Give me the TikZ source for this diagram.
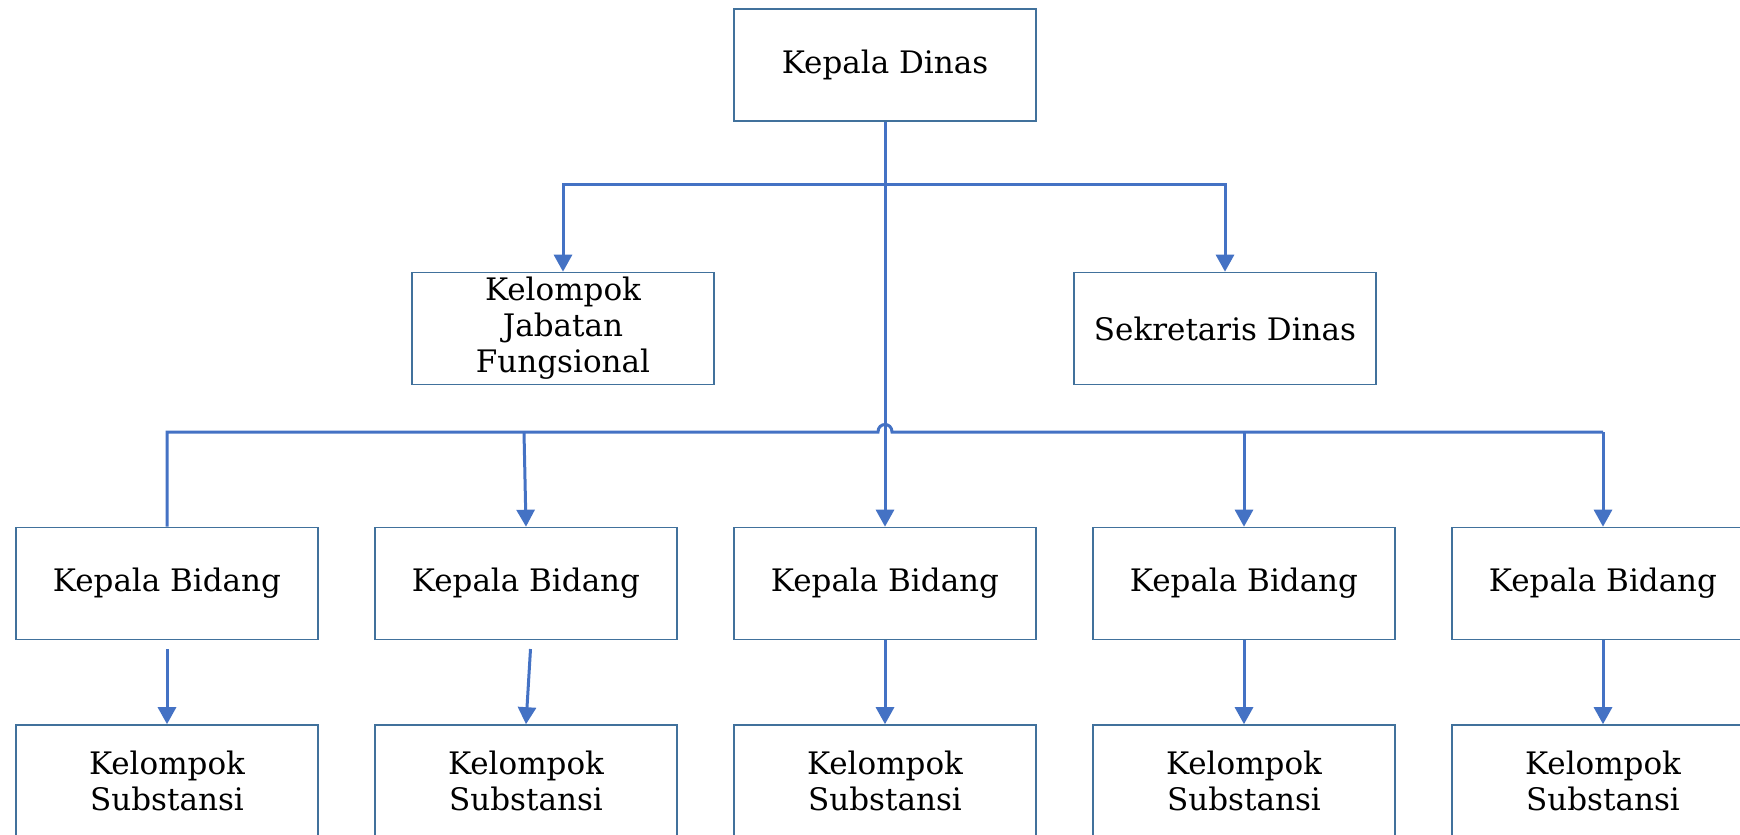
\documentclass[tikz,border=0pt]{standalone}
\usepackage{fontspec}
\setmainfont{DejaVu Serif}
\usetikzlibrary{arrows.meta,calc}
\definecolor{conncol}{HTML}{4472C4}
\definecolor{boxcol}{HTML}{41719C}
\tikzset{
  box/.style={draw=boxcol, line width=0.8pt, fill=white, minimum width=151pt, minimum height=56pt,
    inner sep=0pt, align=center, font=\fontsize{15.5}{18}\selectfont},
  conn/.style={draw=conncol, line width=1.5pt},
  arr/.style={conn, -{Triangle[length=8.5pt,width=9pt]}}
}
\begin{document}
\begin{tikzpicture}[x=0.5pt,y=-0.5pt]
\useasboundingbox (0,0) rectangle (1740,835);
\clip (0,0) rectangle (1740,835);
% nodes
\node[box] (kd) at (885,65) {Kepala Dinas};
\node[box] (kjf) at (563,328.5) {Kelompok\\Jabatan\\Fungsional};
\node[box] (sek) at (1225,328.5) {Sekretaris Dinas};
\foreach \i/\x in {1/167,2/526,3/885,4/1244,5/1603}{
  \node[box] (kb\i) at (\x,583.5) {Kepala Bidang};
  \node[box] (ks\i) at (\x,781) {Kelompok\\Substansi};
}
% coordinates
\coordinate (b1) at (885,184);
\coordinate (bl) at (167,432);
\coordinate (j2) at (524,432);
\coordinate (hopl) at (878,432);
\coordinate (hopr) at (892,432);
\coordinate (j4) at (1244,432);
\coordinate (br) at (1603,432);
\coordinate (s1) at (167,649);
\coordinate (s2) at (530.5,649);
% stem
\draw[arr] (kd.south) -- (kb3.north);
% first bus
\draw[arr] (b1) -| (kjf.north);
\draw[arr] (b1) -| (sek.north);
% second bus with hop
\draw[conn] (kb1.north) -- (bl) -- (hopl) .. controls ($(hopl)+(0,-10)$) and ($(hopr)+(0,-10)$) .. (hopr) -- (br);
\draw[arr] (j2) -- (kb2.north);
\draw[arr] (j4) -- (kb4.north);
\draw[arr] (br) -- (kb5.north);
% row 3 to row 4
\draw[arr] (s1) -- (ks1.north);
\draw[arr] (s2) -- (ks2.north);
\draw[arr] (kb3.south) -- (ks3.north);
\draw[arr] (kb4.south) -- (ks4.north);
\draw[arr] (kb5.south) -- (ks5.north);
\end{tikzpicture}
\end{document}
